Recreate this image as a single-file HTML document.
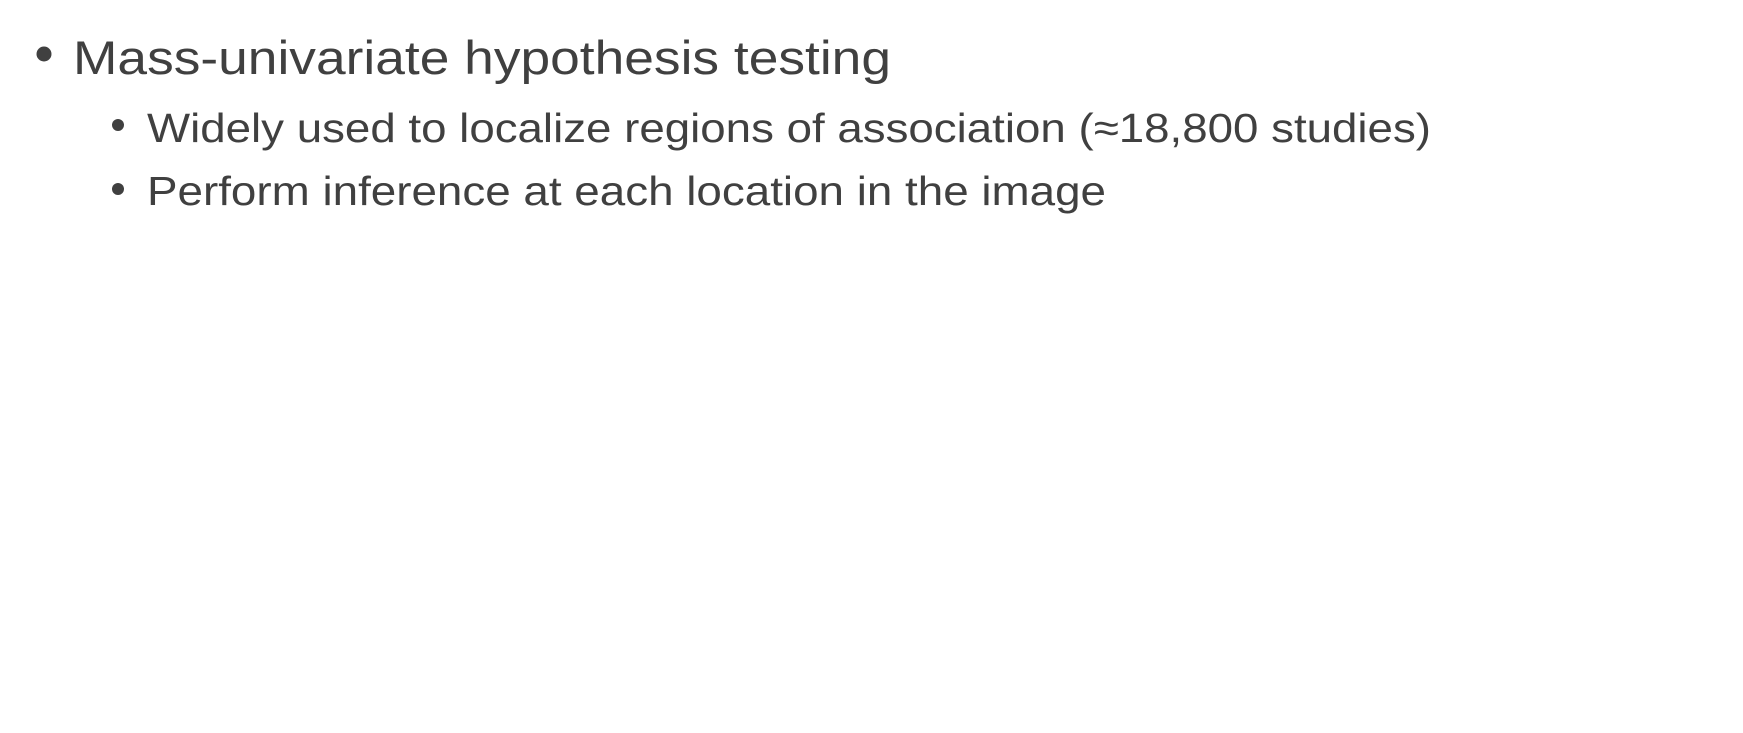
<!DOCTYPE html>
<html><head><meta charset="utf-8"><style>
html,body{margin:0;padding:0;background:#fff;}
svg{display:block;}
text{font-family:"Liberation Sans",sans-serif;fill:#404040;}
</style></head><body>
<svg width="1743" height="733" viewBox="0 0 1743 733">
<rect width="1743" height="733" fill="#fff"/>
<circle cx="44" cy="54" r="7.5" fill="#404040"/>
<text x="73" y="74" font-size="47" textLength="818" lengthAdjust="spacingAndGlyphs">Mass-univariate hypothesis testing</text>
<circle cx="118" cy="125" r="6" fill="#404040"/>
<text x="147" y="142" font-size="41" textLength="1284" lengthAdjust="spacingAndGlyphs">Widely used to localize regions of association (≈18,800 studies)</text>
<circle cx="118" cy="189" r="6" fill="#404040"/>
<text x="147" y="205" font-size="41" textLength="959" lengthAdjust="spacingAndGlyphs">Perform inference at each location in the image</text>
</svg>
</body></html>
